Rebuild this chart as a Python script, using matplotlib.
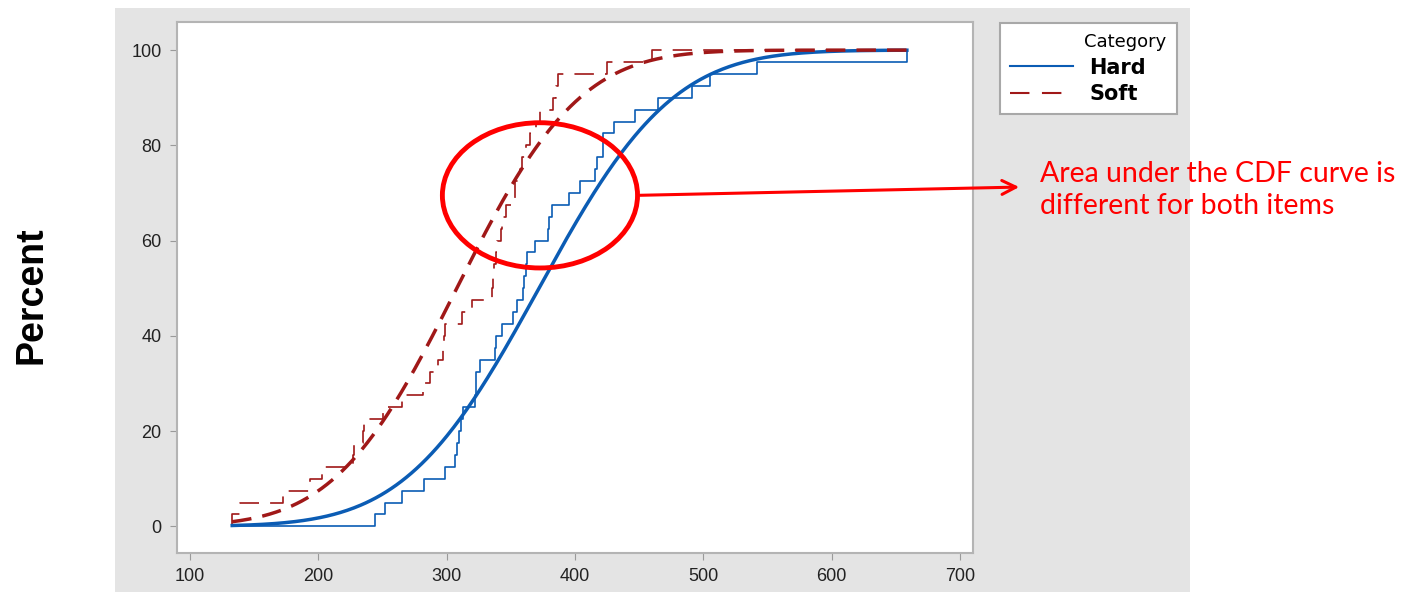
import math
import numpy as np
import matplotlib
matplotlib.use("Agg")
import matplotlib.pyplot as plt
from matplotlib.patches import Ellipse, Rectangle
from matplotlib.lines import Line2D

# sample values (40 each)
hard = [244, 252, 265, 282, 299, 306.5, 308, 310, 311, 313,
        322, 322.5, 323, 326, 338, 338.5, 343, 352, 354.6, 359.5,
        360, 362, 362.5, 369, 379, 379.5, 382, 395, 404, 415.6,
        417, 421.5, 422, 430, 447, 465, 491, 505, 541.6, 658.5]
soft = [133, 139, 172.7, 193.5, 202.6, 227, 227.5, 235, 235.5, 250.7,
        265, 281.7, 287, 293.5, 297, 298, 299, 312, 319.5, 335,
        336, 337, 338.5, 339, 342, 343, 346, 353, 353.5, 357,
        359, 362, 365, 370, 372.5, 383, 385, 387, 425, 460]
categories = ["Hard", "Soft"]
colors = {"Hard": "#0b5cb4", "Soft": "#a01818"}
xticks = [100, 200, 300, 400, 500, 600, 700]
yticks = [0, 20, 40, 60, 80, 100]
note = "Area under the CDF curve is\ndifferent for both items"

plt.rcParams["lines.scale_dashes"] = False
plt.rcParams["font.family"] = ["Liberation Sans", "DejaVu Sans"]

fig = plt.figure(figsize=(14.1, 5.92), dpi=100)
fig.patch.set_facecolor("white")
# grey panel behind the graph
fig.add_artist(Rectangle((115 / 1410, 0), 1075 / 1410, 584 / 592,
                         transform=fig.transFigure, facecolor="#e4e4e4",
                         edgecolor="none", zorder=0))

ax = fig.add_axes([177 / 1410, 39 / 592, 796 / 1410, 531 / 592])
ax.set_facecolor("white")

data = {"Hard": np.sort(hard), "Soft": np.sort(soft)}
gmin = min(min(hard), min(soft))
gmax = max(max(hard), max(soft))
grid = np.linspace(gmin, gmax, 400)
erf = np.vectorize(math.erf)

for cat in categories:
    s = data[cat]
    n = len(s)
    ls = "-" if cat == "Hard" else (0, (14, 8))
    xs = np.concatenate([[gmin], s, [gmax]])
    ys = np.concatenate([[0], np.arange(1, n + 1) / n * 100, [100]])
    ax.step(xs, ys, where="post", color=colors[cat], lw=1.2, ls=ls, zorder=2)
    # fitted normal cdf
    m, sd = s.mean(), s.std(ddof=1)
    fit = 50 * (1 + erf((grid - m) / (sd * math.sqrt(2))))
    ax.plot(grid, fit, color=colors[cat], lw=2.5, ls=ls, zorder=3)

ax.set_xlim(90, 710)
ax.set_ylim(-5.6, 105.9)
ax.set_xticks(xticks)
ax.set_yticks(yticks)
ax.tick_params(direction="out", length=5, color="#9a9a9a", labelsize=13,
               labelcolor="#222222", pad=6)
for sp in ax.spines.values():
    sp.set_color("#b4b4b4")
    sp.set_linewidth(1.5)

fig.text(31 / 1410, 1 - 295 / 592, "Percent", rotation=90, fontsize=27,
         fontweight="bold", ha="center", va="center")

# legend
handles = [Line2D([], [], color=colors["Hard"], lw=1.5),
           Line2D([], [], color=colors["Soft"], lw=1.5, ls=(0, (14, 9)))]
leg = fig.legend(handles, categories, title="Category", loc="upper left",
                 bbox_to_anchor=(1000 / 1410, 1 - 115 / 592, 177 / 1410, 92 / 592),
                 mode="expand", fontsize=15, title_fontsize=13,
                 frameon=True, fancybox=False, edgecolor="#a8a8a8",
                 facecolor="white", framealpha=1,
                 handlelength=3.0, handletextpad=0.8, borderpad=0.5,
                 labelspacing=0.3, alignment="right", borderaxespad=0)
leg.get_frame().set_linewidth(1.5)
leg.get_title().set_family(["DejaVu Sans"])
for t in leg.get_texts():
    t.set_fontweight("bold")
    t.set_family(["DejaVu Sans"])

# annotation
ell = Ellipse((372.7, 69.5), 152, 30.5, fill=False, edgecolor="#ff0000",
              lw=3.5, zorder=5)
ax.add_patch(ell)
ax.annotate("", xy=(1022 / 1410, 1 - 187 / 592), xycoords="figure fraction",
            xytext=(448.6, 69.5), textcoords="data",
            arrowprops=dict(arrowstyle="->", color="#ff0000", lw=2.2,
                            mutation_scale=25))
fig.text(1040 / 1410, 1 - 190 / 592, note, color="#ff0000", fontsize=20.5,
         family=["Lato", "DejaVu Sans"], ha="left", va="center",
         linespacing=1.3)

fig.savefig("out.png", dpi=100, facecolor=fig.get_facecolor())
